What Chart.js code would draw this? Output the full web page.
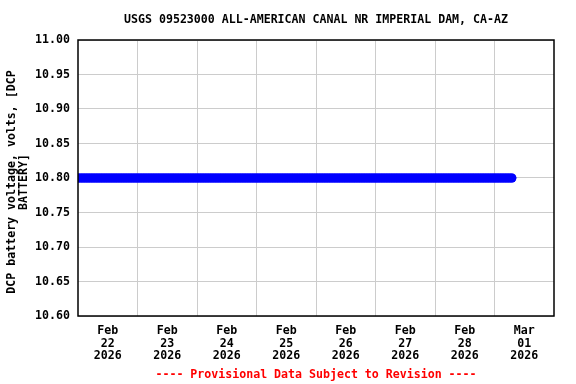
<!DOCTYPE html>
<html>
<head>
<meta charset="utf-8">
<script src="https://cdn.jsdelivr.net/npm/chart.js@4/dist/chart.umd.min.js"></script>
<style>
html,body{margin:0;padding:0;background:#fff;}
#wrap{width:576px;height:384px;position:relative;}
</style>
</head>
<body>
<div id="wrap"><canvas id="c" width="576" height="384"></canvas></div>
<script>
const chartTitle = 'USGS 09523000 ALL-AMERICAN CANAL NR IMPERIAL DAM, CA-AZ';
const yTitleLines = ['DCP battery voltage, volts, [DCP', 'BATTERY]'];
const footerText = '---- Provisional Data Subject to Revision ----';
const tickMonths = ['Feb', 'Feb', 'Feb', 'Feb', 'Feb', 'Feb', 'Feb', 'Mar'];
const tickDays = ['22', '23', '24', '25', '26', '27', '28', '01'];
const tickYears = ['2026', '2026', '2026', '2026', '2026', '2026', '2026', '2026'];
const yTicks = [10.60, 10.65, 10.70, 10.75, 10.80, 10.85, 10.90, 10.95, 11.00];
// hourly readings starting Feb 22 2026 00:00 (hours since start)
const startHour = 0;
const stepHours = 1;
const voltage = [
10.80,10.80,10.80,10.80,10.80,10.80,10.80,10.80,10.80,10.80,10.80,10.80,10.80,10.80,10.80,10.80,10.80,10.80,10.80,10.80,10.80,10.80,10.80,10.80,
10.80,10.80,10.80,10.80,10.80,10.80,10.80,10.80,10.80,10.80,10.80,10.80,10.80,10.80,10.80,10.80,10.80,10.80,10.80,10.80,10.80,10.80,10.80,10.80,
10.80,10.80,10.80,10.80,10.80,10.80,10.80,10.80,10.80,10.80,10.80,10.80,10.80,10.80,10.80,10.80,10.80,10.80,10.80,10.80,10.80,10.80,10.80,10.80,
10.80,10.80,10.80,10.80,10.80,10.80,10.80,10.80,10.80,10.80,10.80,10.80,10.80,10.80,10.80,10.80,10.80,10.80,10.80,10.80,10.80,10.80,10.80,10.80,
10.80,10.80,10.80,10.80,10.80,10.80,10.80,10.80,10.80,10.80,10.80,10.80,10.80,10.80,10.80,10.80,10.80,10.80,10.80,10.80,10.80,10.80,10.80,10.80,
10.80,10.80,10.80,10.80,10.80,10.80,10.80,10.80,10.80,10.80,10.80,10.80,10.80,10.80,10.80,10.80,10.80,10.80,10.80,10.80,10.80,10.80,10.80,10.80,
10.80,10.80,10.80,10.80,10.80,10.80,10.80,10.80,10.80,10.80,10.80,10.80,10.80,10.80,10.80,10.80,10.80,10.80,10.80,10.80,10.80,10.80,10.80,10.80,
10.80,10.80,10.80,10.80,10.80,10.80,10.80,10.80
];

const points = voltage.map((v, i) => ({x: startHour + i * stepHours, y: v}));
const FONT = "'DejaVu Sans Mono', monospace";
const gridGray = '#cccccc';

const decorPlugin = {
  id: 'decor',
  afterDraw(chart) {
    const ctx = chart.ctx;
    const a = chart.chartArea;
    ctx.save();
    ctx.strokeStyle = '#000';
    ctx.lineWidth = 1.5;
    ctx.strokeRect(a.left, a.top, a.right - a.left, a.bottom - a.top);
    ctx.fillStyle = '#000';
    ctx.font = 'bold 11.6px ' + FONT;
    ctx.textAlign = 'center';
    ctx.textBaseline = 'middle';
    ctx.fillText(chartTitle, (a.left + a.right) / 2, 20);
    const cy = (a.top + a.bottom) / 2 + 4;
    ctx.save();
    ctx.translate(12, cy);
    ctx.rotate(-Math.PI / 2);
    ctx.fillText(yTitleLines[0], 0, 0);
    ctx.restore();
    ctx.save();
    ctx.translate(24, cy);
    ctx.rotate(-Math.PI / 2);
    ctx.fillText(yTitleLines[1], 0, 0);
    ctx.restore();
    ctx.fillStyle = '#ff0000';
    ctx.fillText(footerText, (a.left + a.right) / 2, 375);
    ctx.restore();
  }
};

new Chart(document.getElementById('c'), {
  type: 'line',
  data: {
    datasets: [{
      data: points,
      borderColor: '#0000ff',
      backgroundColor: '#0000ff',
      borderWidth: 9,
      pointRadius: 4.5,
      pointBorderWidth: 0,
      pointHoverRadius: 4.5,
      borderCapStyle: 'round',
      tension: 0,
      fill: false
    }]
  },
  options: {
    responsive: false,
    animation: false,
    events: [],
    layout: {padding: {left: 0, right: 22, top: 40, bottom: 0}},
    plugins: {legend: {display: false}, tooltip: {enabled: false}, title: {display: false}},
    scales: {
      x: {
        type: 'linear',
        min: 0,
        max: 192,
        afterBuildTicks(scale) {
          const t = [];
          for (let h = 0; h <= 192; h += 12) t.push({value: h});
          scale.ticks = t;
        },
        afterFit(scale) { scale.height = 68; },
        border: {display: false},
        grid: {
          drawTicks: false,
          lineWidth: 1,
          color(ctx) {
            const v = ctx.tick ? ctx.tick.value : 0;
            return (v % 24 === 0 && v > 0 && v < 192) ? gridGray : 'rgba(0,0,0,0)';
          }
        },
        ticks: {
          autoSkip: false,
          maxRotation: 0,
          padding: 8,
          color: '#000',
          font: {family: FONT, size: 11.6, weight: 'bold', lineHeight: 1.12},
          callback(v) {
            if (v % 24 !== 12) return '';
            const i = Math.floor(v / 24);
            return [tickMonths[i], tickDays[i], tickYears[i]];
          }
        }
      },
      y: {
        min: 10.6,
        max: 11.0,
        afterBuildTicks(scale) { scale.ticks = yTicks.map(v => ({value: v})); },
        afterFit(scale) { scale.width = 78; },
        border: {display: false},
        grid: {drawTicks: false, color: gridGray, lineWidth: 1},
        ticks: {
          padding: 8,
          color: '#000',
          font: {family: FONT, size: 11.6, weight: 'bold'},
          callback(v) { return Number(v).toFixed(2); }
        }
      }
    }
  },
  plugins: [decorPlugin]
});
</script>
</body>
</html>
